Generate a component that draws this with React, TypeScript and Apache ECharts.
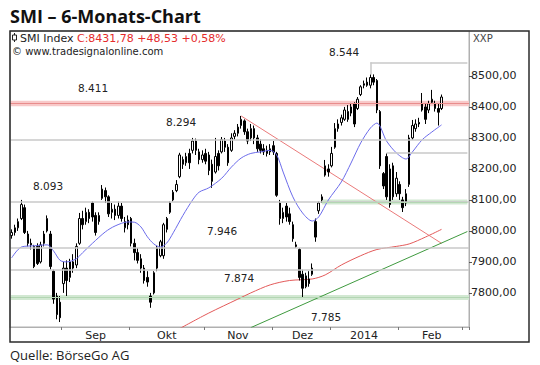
import React, { useEffect, useRef } from "react";
import * as echarts from "echarts";

// [open, close, low, high] per trading day, 2013-08-09 .. 2014-02-20
const CANDLES: [number, number, number, number][] = [
  [7985, 7995, 7975, 8005], [7995, 8010, 7985, 8020], [8010, 8030, 8000, 8040], [8040, 8085, 8035, 8100],
  [8075, 7995, 7990, 8085], [7990, 7960, 7950, 8000], [7960, 7955, 7940, 7975], [7950, 7885, 7880, 7955],
  [7950, 7895, 7890, 7960], [7900, 7955, 7895, 7965], [7960, 7990, 7950, 8000], [8000, 8040, 7995, 8050],
  [7990, 7885, 7875, 8000], [7870, 7780, 7765, 7875], [7790, 7730, 7715, 7800], [7770, 7720, 7706, 7790],
  [7830, 7880, 7800, 7900], [7880, 7840, 7790, 7905], [7850, 7900, 7835, 7910], [7900, 7880, 7865, 7925],
  [7890, 7950, 7880, 7960], [7960, 8040, 7955, 8058], [8040, 8020, 8005, 8065], [8030, 8060, 8020, 8075],
  [8060, 8040, 8025, 8070], [8090, 8045, 8030, 8095], [8050, 7995, 7985, 8060], [8030, 8050, 8020, 8060],
  [8105, 8135, 8100, 8148], [8130, 8110, 8090, 8140], [8110, 8055, 8045, 8115], [8060, 8070, 8040, 8090],
  [8070, 8050, 8035, 8085], [8050, 8080, 8040, 8095], [8080, 8040, 8030, 8090], [8010, 8030, 7995, 8045],
  [8035, 8020, 8005, 8050], [8040, 7960, 7950, 8045], [7960, 7930, 7905, 7975], [7930, 7905, 7895, 7945],
  [7910, 7880, 7865, 7925], [7880, 7840, 7830, 7890], [7850, 7835, 7820, 7870], [7790, 7770, 7752, 7800],
  [7800, 7865, 7795, 7870], [7880, 7945, 7870, 7952], [7920, 7965, 7915, 7971], [7920, 8020, 7910, 8026],
  [8005, 8040, 7995, 8045], [8060, 8090, 8055, 8095], [8100, 8125, 8095, 8132], [8130, 8150, 8125, 8164],
  [8175, 8245, 8170, 8252], [8230, 8215, 8200, 8240], [8220, 8240, 8210, 8252], [8250, 8220, 8200, 8265],
  [8260, 8290, 8250, 8300], [8290, 8260, 8245, 8298], [8255, 8230, 8215, 8265], [8230, 8245, 8220, 8260],
  [8250, 8225, 8215, 8265], [8245, 8195, 8180, 8255], [8215, 8160, 8139, 8230], [8190, 8240, 8185, 8300],
  [8250, 8210, 8195, 8260], [8255, 8295, 8250, 8303], [8290, 8270, 8255, 8300], [8270, 8220, 8210, 8280],
  [8260, 8300, 8255, 8315], [8305, 8315, 8295, 8325], [8315, 8335, 8305, 8345], [8340, 8360, 8330, 8371],
  [8355, 8320, 8310, 8360], [8320, 8290, 8280, 8330], [8300, 8330, 8290, 8345], [8330, 8300, 8280, 8340],
  [8300, 8265, 8255, 8310], [8280, 8260, 8250, 8295], [8265, 8255, 8245, 8280], [8260, 8250, 8240, 8275],
  [8255, 8265, 8245, 8280], [8275, 8255, 8245, 8290], [8250, 8115, 8110, 8255], [8090, 8040, 8020, 8100],
  [8040, 8060, 8025, 8075], [8080, 8045, 8030, 8090], [8055, 8030, 8020, 8075], [8020, 7975, 7965, 8030],
  [7955, 7950, 7945, 7965], [7940, 7850, 7840, 7945], [7860, 7815, 7785, 7875], [7820, 7855, 7815, 7865],
  [7845, 7830, 7820, 7870], [7860, 7880, 7855, 7895], [8030, 7980, 7965, 8040], [8065, 8090, 8055, 8095],
  [8100, 8110, 8090, 8118], [8180, 8210, 8175, 8229], [8200, 8190, 8175, 8215], [8210, 8250, 8205, 8271],
  [8270, 8330, 8265, 8348], [8330, 8345, 8320, 8360], [8350, 8365, 8340, 8375], [8360, 8390, 8355, 8400],
  [8385, 8360, 8352, 8406], [8380, 8400, 8370, 8413], [8410, 8345, 8335, 8415], [8395, 8425, 8390, 8432],
  [8440, 8465, 8435, 8470], [8470, 8475, 8460, 8485], [8480, 8470, 8465, 8495], [8470, 8495, 8460, 8505],
  [8495, 8480, 8470, 8505], [8485, 8390, 8380, 8490], [8385, 8210, 8200, 8390], [8185, 8145, 8135, 8190],
  [8240, 8110, 8100, 8250], [8200, 8085, 8075, 8215], [8210, 8110, 8100, 8220], [8120, 8170, 8110, 8190],
  [8150, 8120, 8100, 8160], [8100, 8075, 8061, 8110], [8090, 8120, 8080, 8135], [8150, 8300, 8142, 8310],
  [8300, 8340, 8294, 8358], [8330, 8345, 8320, 8360], [8350, 8345, 8335, 8365], [8390, 8410, 8385, 8445],
  [8400, 8360, 8345, 8410], [8390, 8410, 8380, 8420], [8415, 8425, 8410, 8455], [8410, 8395, 8385, 8420],
  [8395, 8383, 8340, 8410], [8395, 8432, 8390, 8440],
];

// moving averages: [day index, value]
const BLUE_MA: [number, number][] = [
  [0, 7913], [3, 7948], [7, 7952], [11, 7955], [13, 7935], [15, 7905], [17, 7900], [20, 7910],
  [22, 7930], [25, 7960], [29, 7997], [32, 8016], [36, 8029], [38, 8028], [40, 8013], [42, 7981],
  [44, 7958], [46, 7948], [48, 7961], [50, 7994], [53, 8050], [56, 8100], [58, 8125], [61, 8139],
  [65, 8170], [68, 8206], [71, 8235], [74, 8250], [77, 8255], [80, 8260], [82, 8245], [84, 8190],
  [87, 8110], [90, 8058], [93, 8032], [95, 8045], [98, 8100], [102, 8158], [105, 8219], [108, 8284],
  [111, 8332], [113, 8348], [116, 8290], [119, 8252], [122, 8232], [124, 8255], [127, 8294],
  [130, 8319], [133, 8342],
];
const RED_MA: [number, number][] = [
  [52, 7685], [61, 7735], [70, 7780], [74, 7800], [80, 7826], [86, 7840], [93, 7845], [97, 7858],
  [102, 7890], [108, 7920], [113, 7940], [119, 7950], [123, 7958], [128, 7980], [133, 8005],
];
const RED_TREND: [number, number][] = [[71, 8371], [133, 7960]];
const GREEN_TREND: [number, number][] = [[74, 7688], [141, 7998]];

const GRAY_LEVELS = [8294, 8093, 7946, 7874];
const PINK_LEVEL = 8411;
const GREEN_LEVEL = 7785;
const GREEN_LEVEL_RIGHT = 8093;
const JAN_LEVEL = 8252;
const HIGH_LEVEL = 8544;

const Y_TICKS = [7800, 7900, 8000, 8100, 8200, 8300, 8400, 8500];
const HOLIDAYS = ["2013-12-24", "2013-12-25", "2013-12-26", "2013-12-31", "2014-01-01", "2014-01-02"];
const MONTH_NAMES: Record<string, string> = {
  "2013-09": "Sep", "2013-10": "Okt", "2013-11": "Nov", "2013-12": "Dez", "2014-01": "2014", "2014-02": "Feb",
};
const LEVEL_LABELS: { text: string; x: number; y: number }[] = [
  { text: "8.544", x: 329, y: 52 },
  { text: "8.411", x: 78, y: 88 },
  { text: "8.294", x: 166, y: 122 },
  { text: "8.093", x: 33, y: 186 },
  { text: "7.946", x: 207, y: 231 },
  { text: "7.874", x: 224, y: 278 },
  { text: "7.785", x: 311, y: 317 },
];

function tradingDays(): string[] {
  const out: string[] = [];
  let t = Date.UTC(2013, 7, 9);
  const end = Date.UTC(2014, 2, 4);
  while (t <= end) {
    const d = new Date(t);
    const wd = d.getUTCDay();
    const s = d.toISOString().slice(0, 10);
    if (wd !== 0 && wd !== 6 && !HOLIDAYS.includes(s)) out.push(s);
    t += 86400000;
  }
  return out;
}

const FONT = "DejaVu Sans";

export default function App() {
  const ref = useRef<HTMLDivElement>(null);
  useEffect(() => {
    const chart = echarts.init(ref.current!, null, { renderer: "svg" });
    const days = tradingDays();
    const monthStarts = new Set<number>();
    const ranges: Record<string, [number, number]> = {};
    days.forEach((d, i) => {
      const m = d.slice(0, 7);
      if (i > 0 && days[i - 1].slice(0, 7) !== m) monthStarts.add(i);
      if (!ranges[m]) ranges[m] = [i, i];
      else ranges[m][1] = i;
    });
    const labelAt: Record<number, string> = {};
    Object.keys(MONTH_NAMES).forEach((m) => {
      const r = ranges[m];
      if (r) labelAt[Math.round((r[0] + r[1]) / 2)] = MONTH_NAMES[m];
    });
    const last = days.length - 1;
    const gray = { color: "#c9c9c9", width: 1.5, type: "solid" as const };

    const option: any = {
      animation: false,
      backgroundColor: "#ffffff",
      grid: { left: 10, right: 71, top: 31, bottom: 38, show: true, borderColor: "#b0b0b0", borderWidth: 1 },
      xAxis: {
        type: "category",
        data: days,
        boundaryGap: true,
        axisLine: { show: true, lineStyle: { color: "#b0b0b0", width: 1 } },
        axisTick: {
          show: true,
          alignWithLabel: false,
          interval: (i: number) => monthStarts.has(i),
          length: 3,
          lineStyle: { color: "#777" },
        },
        axisLabel: {
          interval: (i: number) => labelAt[i] !== undefined,
          formatter: (_v: string, i: number) => labelAt[i] ?? "",
          fontFamily: FONT,
          fontSize: 11,
          color: "#222",
          margin: 3,
        },
        splitLine: { show: false },
      },
      yAxis: {
        type: "value",
        position: "right",
        min: 7690,
        max: 8645,
        scale: true,
        axisLine: { show: true, lineStyle: { color: "#b0b0b0" } },
        axisTick: { show: true, customValues: Y_TICKS, length: 3, lineStyle: { color: "#555" } },
        axisLabel: {
          customValues: Y_TICKS,
          formatter: (v: number) => v.toFixed(2).replace(".", ","),
          fontFamily: FONT,
          fontSize: 11,
          color: "#222",
          margin: 2,
        },
        splitLine: { show: false },
      },
      series: [
        {
          type: "line",
          data: [],
          z: 1,
          silent: true,
          markArea: {
            silent: true,
            data: [
              [{ yAxis: PINK_LEVEL - 9, itemStyle: { color: "#f8c9c9" } }, { yAxis: PINK_LEVEL + 9 }],
              [{ yAxis: GREEN_LEVEL - 8, itemStyle: { color: "#d2e8d2" } }, { yAxis: GREEN_LEVEL + 8 }],
              [
                { coord: [96, GREEN_LEVEL_RIGHT - 8], itemStyle: { color: "#d2e8d2" } },
                { coord: [last, GREEN_LEVEL_RIGHT + 8] },
              ],
            ],
          },
          markLine: {
            silent: true,
            symbol: ["none", "none"],
            label: { show: false },
            data: [
              ...GRAY_LEVELS.map((v) => ({ yAxis: v, lineStyle: gray })),
              { yAxis: PINK_LEVEL, lineStyle: { color: "#e88c8c", width: 1, type: "solid" } },
              { yAxis: GREEN_LEVEL, lineStyle: { color: "#b3d6b3", width: 1, type: "solid" } },
              [
                { coord: [96, GREEN_LEVEL_RIGHT], lineStyle: { color: "#b3d6b3", width: 1, type: "solid" } },
                { coord: [last, GREEN_LEVEL_RIGHT] },
              ],
              [{ coord: [116, JAN_LEVEL], lineStyle: gray }, { coord: [last, JAN_LEVEL] }],
              [{ coord: [111, HIGH_LEVEL], lineStyle: gray }, { coord: [last, HIGH_LEVEL] }],
              [{ coord: [111, 8505], lineStyle: gray }, { coord: [111, HIGH_LEVEL] }],
            ],
          },
        },
        {
          type: "line",
          data: RED_MA,
          showSymbol: false,
          smooth: 0.3,
          z: 2,
          lineStyle: { color: "#e35a5a", width: 1 },
        },
        {
          type: "line",
          data: RED_TREND,
          showSymbol: false,
          z: 2,
          lineStyle: { color: "#ea7a7a", width: 1 },
        },
        {
          type: "line",
          data: GREEN_TREND,
          showSymbol: false,
          z: 2,
          lineStyle: { color: "#3f9a3f", width: 1 },
        },
        {
          type: "candlestick",
          data: CANDLES,
          barWidth: 2,
          z: 3,
          itemStyle: {
            color: "#ffffff",
            color0: "#000000",
            borderColor: "#000000",
            borderColor0: "#000000",
            borderWidth: 1,
          },
        },
        {
          type: "line",
          data: BLUE_MA,
          showSymbol: false,
          smooth: 0.3,
          z: 4,
          lineStyle: { color: "#6b6bea", width: 1 },
        },
      ],
      graphic: [
        {
          type: "text",
          x: 10,
          y: 16,
          style: {
            text: "SMI – 6-Monats-Chart",
            font: "bold 18px 'Open Sans'",
            fill: "#111",
            textVerticalAlign: "middle",
          },
        },
        { type: "line", shape: { x1: 14.5, y1: 33, x2: 14.5, y2: 42 }, style: { stroke: "#222", lineWidth: 1 } },
        { type: "rect", shape: { x: 12.5, y: 35, width: 4, height: 5 }, style: { fill: "#fff", stroke: "#222", lineWidth: 1 } },
        {
          type: "text",
          x: 20,
          y: 38,
          style: {
            text: "{a|SMI Index }{b|C:8431,78 +48,53 +0,58%}",
            rich: {
              a: { fontFamily: FONT, fontSize: 11, fill: "#222" },
              b: { fontFamily: FONT, fontSize: 11, fill: "#e52b2b" },
            },
            textVerticalAlign: "middle",
          },
        },
        {
          type: "text",
          x: 12,
          y: 51,
          style: {
            text: "© www.tradesignalonline.com",
            fontFamily: FONT,
            fontSize: 10,
            fill: "#222",
            textVerticalAlign: "middle",
          },
        },
        {
          type: "text",
          x: 473,
          y: 38,
          style: { text: "XXP", fontFamily: FONT, fontSize: 10, fill: "#444", textVerticalAlign: "middle" },
        },
        ...LEVEL_LABELS.map((l) => ({
          type: "text",
          x: l.x,
          y: l.y,
          z: 10,
          style: { text: l.text, fontFamily: FONT, fontSize: 10.5, fill: "#222", textVerticalAlign: "middle" },
        })),
        {
          type: "rect",
          z: 20,
          shape: { x: 10, y: 31, width: 519, height: 311 },
          style: { fill: "none", stroke: "#2b2b2b", lineWidth: 1.5 },
        },
        {
          type: "text",
          x: 10,
          y: 355,
          style: {
            text: "Quelle: BörseGo AG",
            fontFamily: "Open Sans",
            fontSize: 13,
            fill: "#222",
            textVerticalAlign: "middle",
          },
        },
      ],
    };
    chart.setOption(option);
    return () => chart.dispose();
  }, []);
  return (
    <div
      ref={ref}
      style={{ position: "fixed", left: 0, top: 0, width: 540, height: 365, background: "#fff" }}
    />
  );
}
